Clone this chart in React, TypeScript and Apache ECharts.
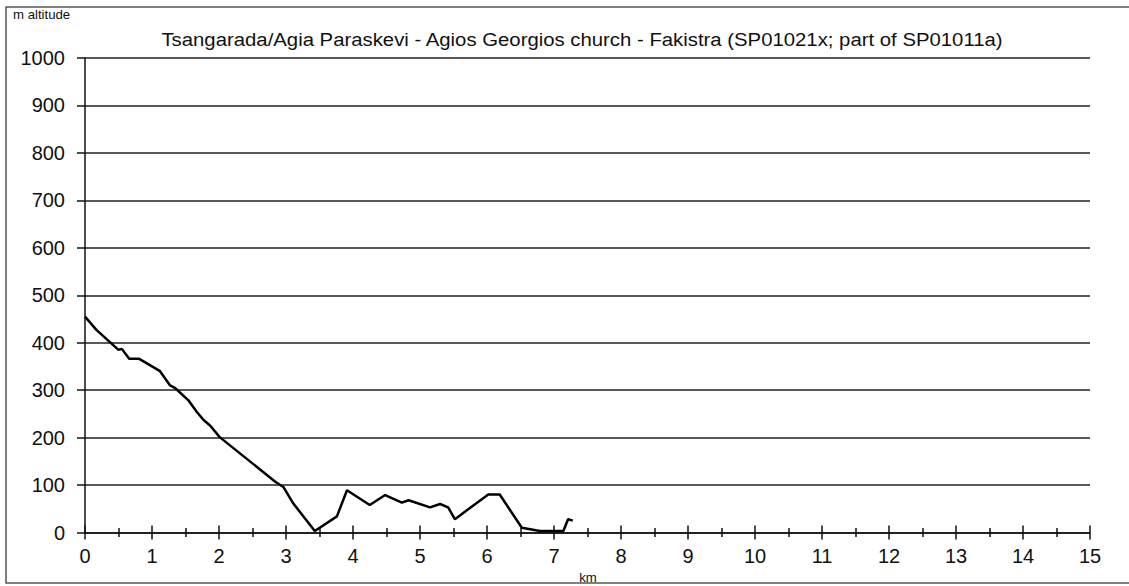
import React, { useEffect, useRef } from "react";
import * as echarts from "echarts";

const TITLE = "Tsangarada/Agia Paraskevi - Agios Georgios church - Fakistra (SP01021x; part of SP01011a)";
const Y_NAME = "m altitude";
const X_NAME = "km";

const distanceKm = [
  0, 0.17, 0.5, 0.55, 0.66, 0.81, 1.12, 1.27, 1.34, 1.54, 1.67, 1.77, 1.87, 2.01,
  2.84, 2.96, 3.11, 3.43, 3.76, 3.91, 4.25, 4.48, 4.73, 4.83, 5.15, 5.3, 5.42,
  5.52, 5.7, 6.02, 6.19, 6.52, 6.79, 7.14, 7.21, 7.28,
];
const altitudeM = [
  455, 427, 385, 387, 366, 366, 340, 310, 305, 279, 254, 237, 225, 201,
  107, 96, 61, 3, 34, 89, 58, 79, 63, 68, 53, 60, 53,
  28, 47, 80, 80, 10, 3, 3, 28, 25,
];

const FONT = "Arial, 'Liberation Sans', sans-serif";

export default function App() {
  const ref = useRef<HTMLDivElement>(null);
  useEffect(() => {
    if (!ref.current) return;
    const chart = echarts.init(ref.current, undefined, { renderer: "svg" });
    const data = distanceKm.map((x, i) => [x, altitudeM[i]]);
    const axisCommon = {
      type: "value",
      min: 0,
      max: 15,
      interval: 1,
      position: "bottom",
      splitLine: { show: false },
    };
    chart.setOption({
      animation: false,
      backgroundColor: "#fff",
      textStyle: { fontFamily: FONT },
      grid: { left: 85, right: 39, top: 58, bottom: 53.5 },
      graphic: [
        {
          type: "rect",
          shape: { x: 6, y: 7, width: 1140, height: 576 },
          style: { fill: "none", stroke: "#555", lineWidth: 1.5 },
          silent: true,
        },
        {
          type: "text",
          x: 582,
          y: 40,
          scaleX: 1.13,
          style: { text: TITLE, fontSize: 18, fill: "#111", fontFamily: FONT, align: "center", verticalAlign: "middle" },
        },
        {
          type: "text",
          x: 13,
          y: 9,
          scaleX: 1.1,
          style: { text: Y_NAME, fontSize: 12, fill: "#111", fontFamily: FONT },
        },
        {
          type: "text",
          x: 588,
          y: 578,
          scaleX: 1.1,
          style: { text: X_NAME, fontSize: 12, fill: "#111", fontFamily: FONT, align: "center", verticalAlign: "middle" },
        },
      ],
      xAxis: [
        {
          ...axisCommon,
          axisLine: { show: true, lineStyle: { color: "#111", width: 1.5 } },
          axisTick: { show: true, inside: false, length: 7, lineStyle: { color: "#111", width: 1.5 } },
          minorTick: { show: true, splitNumber: 2, length: 4.5, lineStyle: { color: "#111", width: 1.5 } },
          axisLabel: { margin: 13, fontSize: 20, color: "#111", fontFamily: FONT },
        },
        {
          ...axisCommon,
          axisLine: { show: false },
          axisTick: { show: true, inside: true, length: 7, lineStyle: { color: "#111", width: 1.5 } },
          minorTick: { show: true, splitNumber: 2, length: 4.5, lineStyle: { color: "#111", width: 1.5 } },
          axisLabel: { show: false },
        },
      ],
      yAxis: {
        type: "value",
        min: 0,
        max: 1000,
        interval: 100,
        axisLine: { show: true, lineStyle: { color: "#111", width: 1.5 } },
        axisTick: { show: true, length: 8, lineStyle: { color: "#111", width: 1.5 } },
        axisLabel: { margin: 20, fontSize: 20, color: "#111", fontFamily: FONT, formatter: (v: number) => String(v) },
        splitLine: { show: true, lineStyle: { color: "#222", width: 1.5 } },
      },
      series: [
        {
          type: "line",
          data,
          xAxisIndex: 0,
          showSymbol: false,
          symbol: "none",
          lineStyle: { color: "#000", width: 2.5 },
        },
      ],
    });
    return () => chart.dispose();
  }, []);
  return <div ref={ref} style={{ width: 1129, height: 586, position: "absolute", left: 0, top: 0 }} />;
}
